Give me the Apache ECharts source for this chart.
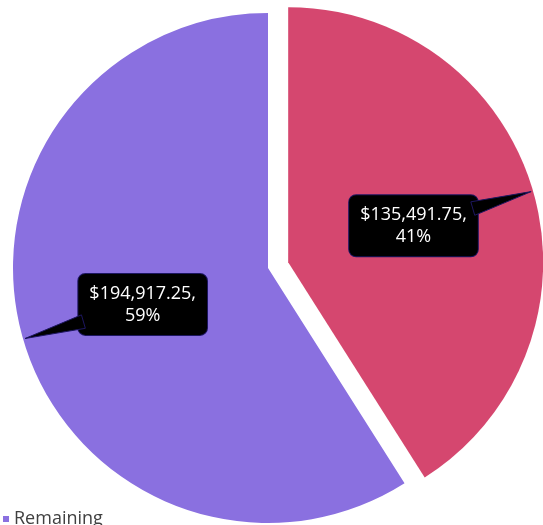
<!DOCTYPE html>
<html>
<head>
<meta charset="utf-8">
<script src="https://cdn.jsdelivr.net/npm/echarts@6/dist/echarts.min.js"></script>
<style>
html,body{margin:0;padding:0;background:#fff;}
#chart{width:543px;height:525px;}
</style>
</head>
<body>
<div id="chart"></div>
<script>
const categories = ['Paid', 'Remaining'];
const values = [135491.75, 194917.25];
const colors = ['#D5476F', '#8A70E0'];
const legendItems = ['Remaining'];

const CX = 268, CY = 268, R = 255, OFFSET = 21;
const BOX_HALF_W = 66, BOX_HALF_H = 30;
const total = values.reduce((a, b) => a + b, 0);

function fmtMoney(v) {
  return '$' + v.toFixed(2).replace(/\B(?=(\d{3})+(?!\d))/g, ',');
}
function midAngle(i) {
  let cum = 0;
  for (let k = 0; k < i; k++) cum += values[k];
  return (cum + values[i] / 2) / total * Math.PI * 2;
}

// callout tails derived from the data's slice angles
const tails = values.map((v, i) => {
  const a = midAngle(i);
  const dx = Math.sin(a), dy = -Math.cos(a);
  const off = i === 0 ? OFFSET : 0;
  const cx = CX + dx * off, cy = CY + dy * off;
  const lx = cx + dx * R * 0.5, ly = cy + dy * R * 0.5;
  const t = Math.min(BOX_HALF_W / Math.abs(dx || 1e-6), BOX_HALF_H / Math.abs(dy || 1e-6)) - 4;
  const bx = lx + dx * t, by = ly + dy * t;
  const px = -dy, py = dx;
  const tip = [cx + dx * (R - 2), cy + dy * (R - 2)];
  return {
    type: 'polygon',
    z: 10,
    shape: { points: [tip, [bx + px * 7, by + py * 7], [bx - px * 7, by - py * 7]] },
    style: { fill: '#000', stroke: '#1d1660', lineWidth: 1 }
  };
});

const chart = echarts.init(document.getElementById('chart'));
chart.setOption({
  animation: false,
  graphic: tails,
  legend: {
    data: legendItems,
    left: -2,
    top: 505,
    itemWidth: 6,
    itemHeight: 6,
    icon: 'rect',
    textStyle: { fontFamily: 'Open Sans', fontSize: 18, color: '#404040' }
  },
  series: [{
    type: 'pie',
    center: [CX, CY],
    radius: R,
    startAngle: 90,
    clockwise: true,
    selectedMode: 'single',
    selectedOffset: OFFSET,
    avoidLabelOverlap: false,
    emphasis: { disabled: true },
    itemStyle: { borderWidth: 0 },
    label: {
      show: true,
      position: 'inside',
      formatter: p => fmtMoney(p.value) + ',\n' + Math.round(p.percent) + '%',
      color: '#fff',
      fontFamily: 'Open Sans',
      fontSize: 18,
      lineHeight: 22,
      align: 'center',
      backgroundColor: '#000',
      borderColor: '#1d1660',
      borderWidth: 1,
      borderRadius: 7,
      padding: [9, 11, 8, 11]
    },
    labelLine: { show: false },
    data: categories.map((c, i) => ({
      name: c,
      value: values[i],
      selected: i === 0,
      itemStyle: { color: colors[i] }
    }))
  }]
});
</script>
</body>
</html>
